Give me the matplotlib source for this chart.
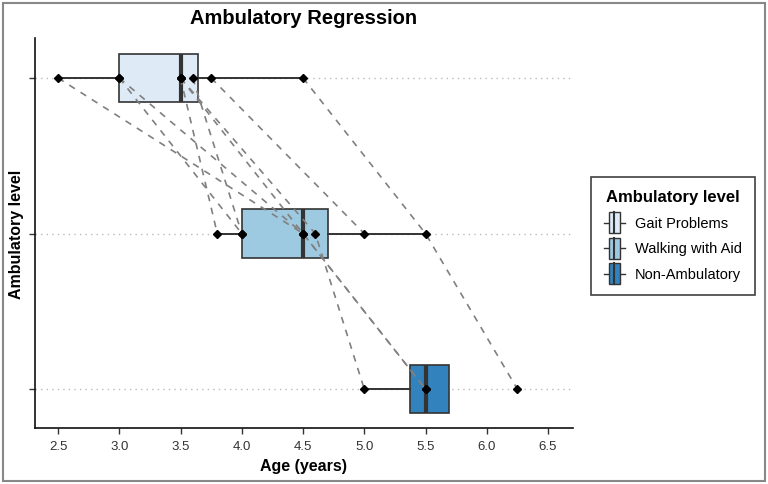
import numpy as np
import matplotlib
matplotlib.use("Agg")
import matplotlib.pyplot as plt
from matplotlib.legend_handler import HandlerBase
from matplotlib.patches import Rectangle
from matplotlib.lines import Line2D

plt.rcParams['font.family'] = ['Liberation Sans', 'DejaVu Sans']

levels = ["Gait Problems", "Walking with Aid", "Non-Ambulatory"]
colors = ["#DEEBF7", "#9ECAE1", "#3182BD"]

# box statistics
whislo = [2.5, 3.8, 5.0]
q1 = [3.0, 4.0, 5.375]
med = [3.5, 4.5, 5.5]
q3 = [3.64, 4.7, 5.69]
whishi = [4.5, 5.5, 5.69]

# individual patient ages at each level (nan = not observed)
gait = [2.5, 3.0, 3.0, 3.5, 3.6, 3.5, 3.75, 4.5, 3.5, np.nan]
walk = [4.5, 4.0, 4.5, 3.8, 4.0, 4.6, 5.0, 5.5, np.nan, 4.5]
nonamb = [np.nan, np.nan, np.nan, np.nan, np.nan, 5.0, np.nan, 6.25, 5.5, 5.5]

W, H = 768, 484
fig = plt.figure(figsize=(W/100, H/100), dpi=100)
ax = fig.add_axes([35/W, 1-428/H, (573-35)/W, (428-38)/H])

ypos = [3, 2, 1]
ax.set_xlim(2.312, 6.704)
ax.set_ylim(0.75, 3.257)

for y in ypos:
    ax.axhline(y, color="#BBBBBB", lw=1.0, ls=(0, (1, 3)), zorder=0)

stats = []
for i in range(3):
    stats.append(dict(whislo=whislo[i], q1=q1[i], med=med[i], q3=q3[i], whishi=whishi[i], fliers=[]))
bp = ax.bxp(stats, positions=ypos, widths=0.31, vert=False, patch_artist=True,
            showcaps=False, showfliers=False,
            boxprops=dict(edgecolor="#333333", lw=1.2),
            whiskerprops=dict(color="#333333", lw=1.4),
            medianprops=dict(color="#333333", lw=3))
for patch, c in zip(bp['boxes'], colors):
    patch.set_facecolor(c)
for art in bp['boxes'] + bp['whiskers'] + bp['medians']:
    art.set_zorder(2)

# patient trajectories
for a, b, c in zip(gait, walk, nonamb):
    xs, ys = [], []
    for v, y in zip((a, b, c), ypos):
        if not np.isnan(v):
            xs.append(v); ys.append(y)
    ax.plot(xs, ys, color="#808080", lw=1.2, ls=(0, (4, 4)), zorder=3)

for vals, y in zip((gait, walk, nonamb), ypos):
    v = np.array(vals, dtype=float)
    v = v[~np.isnan(v)]
    ax.plot(v, np.full(len(v), y), ls="none", marker="D", ms=4.5, color="black", zorder=4)

ax.set_yticks(ypos)
ax.set_yticklabels([])
ax.set_xticks(np.arange(2.5, 6.51, 0.5))
ax.set_xticklabels([f"{t:.1f}" for t in np.arange(2.5, 6.51, 0.5)])
ax.tick_params(axis='both', length=4, width=1, color="#333333", labelsize=9.5, labelcolor="#333333")
ax.tick_params(axis='x', pad=5)
for s in ("top", "right"):
    ax.spines[s].set_visible(False)
for s in ("left", "bottom"):
    ax.spines[s].set_linewidth(1.2)
    ax.spines[s].set_color("#111111")

ax.set_xlabel("Age (years)", fontsize=11.5, fontweight="bold", labelpad=5)
fig.text(17/W, 1-234/H, "Ambulatory level", rotation=90, ha="center", va="center",
         fontsize=11.5, fontweight="bold")
fig.text(304/W, 1-19/H, "Ambulatory Regression", ha="center", va="center",
         fontsize=14.5, fontweight="bold")


class BoxHandler(HandlerBase):
    def __init__(self, color):
        super().__init__()
        self.color = color

    def create_artists(self, legend, orig_handle, xdescent, ydescent, width, height, fontsize, trans):
        cy = height / 2 - ydescent
        w = min(width, 18)
        x0 = -xdescent
        line = Line2D([x0, x0 + w], [cy, cy], color="#333333", lw=1.0, transform=trans)
        bw = w * 0.55
        bx = x0 + (w - bw) / 2
        rect = Rectangle((bx, cy - height * 0.8), bw, height * 1.6, facecolor=self.color,
                         edgecolor="#333333", lw=1.0, transform=trans)
        medl = Line2D([x0 + w / 2, x0 + w / 2], [cy - height * 0.8, cy + height * 0.8],
                      color="#333333", lw=1.5, transform=trans)
        return [line, rect, medl]


handles = [Rectangle((0, 0), 1, 1) for _ in levels]
hmap = {h: BoxHandler(c) for h, c in zip(handles, colors)}
leg = fig.legend(handles, levels, handler_map=hmap, title="Ambulatory level",
                 loc="center left", bbox_to_anchor=(591/W, 1-236/H), borderaxespad=0,
                 fontsize=10.5, title_fontproperties=dict(weight="bold", size=12),
                 frameon=True, fancybox=False, edgecolor="#111111",
                 handlelength=1.4, handleheight=1.0, labelspacing=0.75, borderpad=0.9,
                 handletextpad=0.7)
leg.get_frame().set_linewidth(1.2)

fig.patches.append(Rectangle((3/W, 3/H), 1-6/W, 1-6/H, transform=fig.transFigure,
                             fill=False, edgecolor="#888888", lw=1.5))

fig.savefig("out.png", dpi=100)
